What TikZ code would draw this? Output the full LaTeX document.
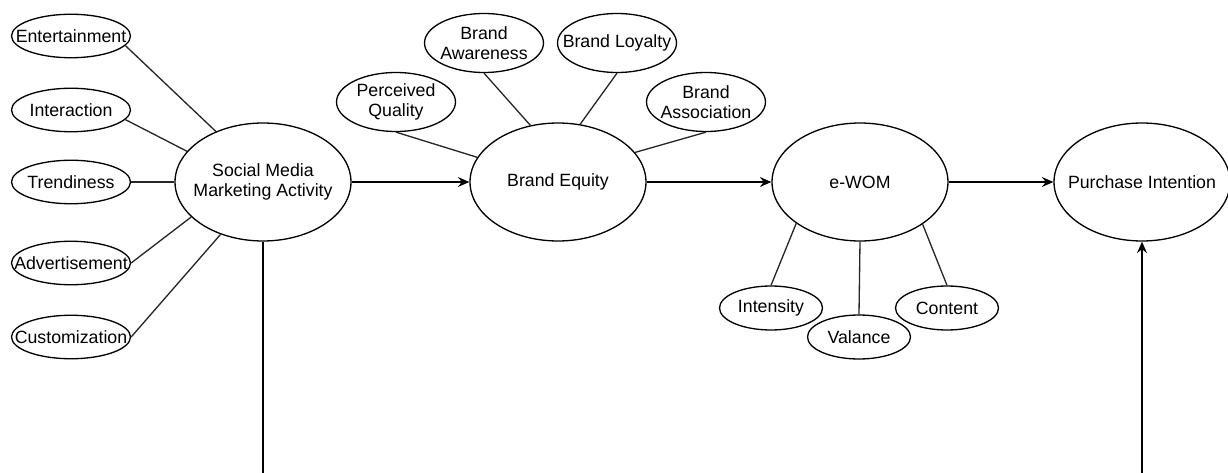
\documentclass[tikz,border=0pt]{standalone}
\usepackage{fontspec}
\setmainfont{Liberation Sans}
\usetikzlibrary{arrows.meta, shapes.geometric}

\begin{document}
\begin{tikzpicture}[
    x=0.02cm, y=-0.02cm,
    line width=0.75pt,
    >={Stealth[length=2.3mm, width=2mm, inset=0.8mm]},
    construct/.style={ellipse, draw, inner xsep=-0.4cm, inner ysep=0pt, align=center, minimum width=3.52cm, minimum height=2.36cm},
    item/.style={ellipse, draw, inner xsep=-0.4cm, inner ysep=0pt, align=center, minimum width=2.38cm, minimum height=0.87cm},
    tall item/.style={item, minimum height=1.18cm},
    wom item/.style={item, minimum width=2.06cm, minimum height=0.88cm},
    spoke/.style={draw, black!85},
    path arrow/.style={->},
    every node/.style={font=\fontsize{10.1pt}{11.4pt}\selectfont}
]

    % === Frame ===
    \useasboundingbox (0,0) rectangle (1228,473);

    % === Main constructs ===
    \node[construct] (smma) at (263,182) {Social Media\\Marketing Activity};
    \node[construct] (be)   at (558,182) {Brand Equity};
    \node[construct] (wom)  at (860,182) {e-WOM};
    \node[construct] (pi)   at (1142,182) {Purchase Intention};

    % === Social media items ===
    \node[item] (ent)  at (71,36)  {Entertainment};
    \node[item] (int)  at (71,110) {Interaction};
    \node[item] (trd)  at (71,182) {Trendiness};
    \node[item] (adv)  at (71,263) {Advertisement};
    \node[item] (cust) at (71,337) {Customization};

    % === Brand equity items ===
    \node[tall item] (pq)    at (396,102) {Perceived\\Quality};
    \node[tall item] (aware) at (484,43)  {Brand\\Awareness};
    \node[tall item] (loyal) at (617,43)  {Brand Loyalty};
    \node[tall item] (assoc) at (706,102) {Brand\\Association};

    % === e-WOM items ===
    \node[wom item] (inten) at (771,308) {Intensity};
    \node[wom item] (val)   at (859,337) {Valance};
    \node[wom item] (cont)  at (947,308) {Content};

    % === Spokes ===
    \draw[spoke] (ent.-10) -- (smma.133);
    \draw[spoke] (int.-10) -- (smma.158);
    \draw[spoke] (trd.east) -- (smma.west);
    \draw[spoke] (adv.east) -- (smma.206);
    \draw[spoke] (cust.east) -- (smma.231);

    \draw[spoke] (pq.south) -- (be.163);
    \draw[spoke] (aware.south) -- (be.116);
    \draw[spoke] (loyal.south) -- (be.69);
    \draw[spoke] (assoc.south) -- (be.21);

    \draw[spoke] (inten.north) -- (wom.213);
    \draw[spoke] (val.north) -- (wom.south);
    \draw[spoke] (cont.north) -- (wom.326);

    % === Paths ===
    \draw[path arrow] (smma) -- (be);
    \draw[path arrow] (be) -- (wom);
    \draw[path arrow] (wom) -- (pi);

    % direct path, running off the bottom edge
    \coordinate (smma_out) at (263,473);
    \coordinate (pi_in) at (1142,473);
    \draw (smma.south) -- (smma_out);
    \draw[path arrow] (pi_in) -- (pi.south);

\end{tikzpicture}
\end{document}
